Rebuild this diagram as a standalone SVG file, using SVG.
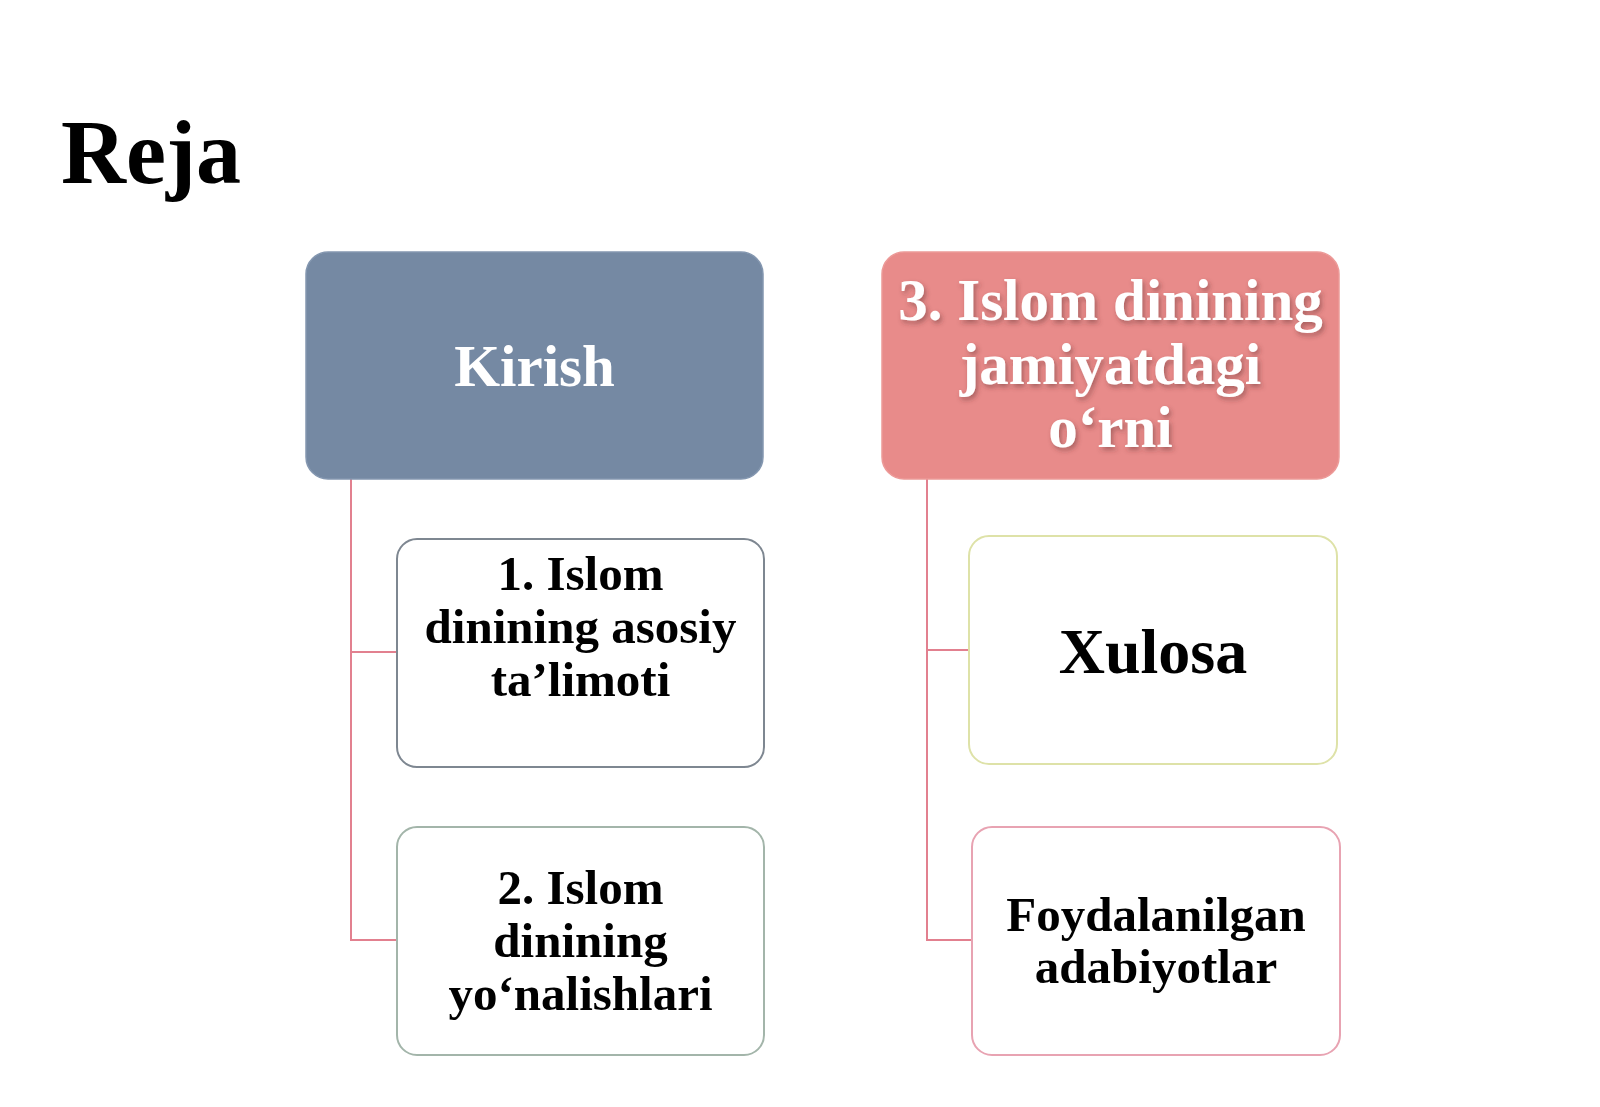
<svg xmlns="http://www.w3.org/2000/svg" width="1600" height="1107" viewBox="0 0 1600 1107">
<defs>
<style>
.t{font-family:"Liberation Serif","Times New Roman",serif;font-weight:bold;text-anchor:middle}
.w{fill:#ffffff}
.k{fill:#000000}
.con{fill:none;stroke:#E2808F;stroke-width:2}
.box{fill:#ffffff;stroke-width:2}
</style>
<filter id="sh" x="-10%" y="-10%" width="120%" height="130%">
<feDropShadow dx="2" dy="3" stdDeviation="2.5" flood-color="#5a2a2a" flood-opacity="0.45"/>
</filter>
</defs>
<rect width="1600" height="1107" fill="#ffffff"/>
<text x="61" y="183" font-family="Liberation Serif, Times New Roman, serif" font-weight="bold" font-size="90" fill="#000">Reja</text>

<g id="connectors">
<path class="con" d="M351 479 V940 H397 M351 652 H397"/>
<path class="con" d="M927 479 V940 H972 M927 650 H969"/>
</g>

<g id="kirish">
<rect x="306" y="252" width="457" height="227" rx="22" fill="#7589A3" stroke="#8497B0" stroke-width="1.5"/>
<text class="t w" x="534.5" y="386" font-size="59">Kirish</text>
</g>

<g id="islom3">
<rect x="882" y="252" width="457" height="227" rx="22" fill="#E88B8A" stroke="#EC9A98" stroke-width="1.5"/>
<g filter="url(#sh)">
<text class="t w" x="1110.5" y="320" font-size="59">3. Islom dinining</text>
<text class="t w" x="1110.5" y="384" font-size="59">jamiyatdagi</text>
<text class="t w" x="1110.5" y="447" font-size="59">o‘rni</text>
</g>
</g>

<g id="islom1">
<rect class="box" x="397" y="539" width="367" height="228" rx="20" stroke="#7E8791"/>
<text class="t k" x="580.5" y="590" font-size="49">1. Islom</text>
<text class="t k" x="580.5" y="643" font-size="49">dinining asosiy</text>
<text class="t k" x="580.5" y="696" font-size="49">ta’limoti</text>
</g>

<g id="islom2">
<rect class="box" x="397" y="827" width="367" height="228" rx="20" stroke="#A3B5AA"/>
<text class="t k" x="580.5" y="904" font-size="49">2. Islom</text>
<text class="t k" x="580.5" y="957" font-size="49">dinining</text>
<text class="t k" x="580.5" y="1010" font-size="49">yo‘nalishlari</text>
</g>

<g id="xulosa">
<rect class="box" x="969" y="536" width="368" height="228" rx="20" stroke="#DEE2A8"/>
<text class="t k" x="1153" y="673" font-size="64">Xulosa</text>
</g>

<g id="foydalanilgan">
<rect class="box" x="972" y="827" width="368" height="228" rx="20" stroke="#E8A3B2"/>
<text class="t k" x="1156" y="931" font-size="49">Foydalanilgan</text>
<text class="t k" x="1156" y="983" font-size="49">adabiyotlar</text>
</g>
</svg>
